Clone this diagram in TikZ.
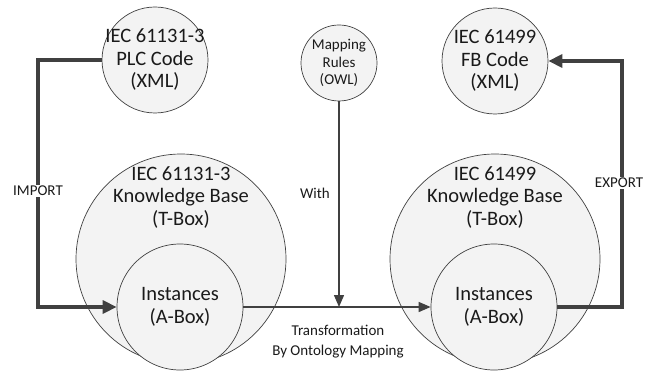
\documentclass[tikz,border=0pt]{standalone}
\usepackage{fontspec}
\setmainfont{Carlito}
\usetikzlibrary{arrows.meta}
\definecolor{linegray}{HTML}{404040}
\definecolor{circfill}{HTML}{F3F3F3}
\definecolor{txt}{HTML}{1A1A1A}
\tikzset{
  circ/.style={circle, draw=linegray, line width=0.7pt, fill=circfill, inner sep=0pt},
  bigtext/.style={align=center, text=txt, font=\fontsize{20.5}{22.5}\selectfont},
  smalltext/.style={align=center, text=txt, font=\fontsize{15}{17.5}\selectfont},
  lbl/.style={align=center, text=txt, font=\fontsize{15}{20}\selectfont, inner sep=1pt},
  heavy/.style={draw=linegray, line width=3.2pt, -{Triangle[length=14pt, width=13pt]}},
  light/.style={draw=linegray, line width=1.4pt, -{Triangle[length=12pt, width=10pt]}}
}
\begin{document}
\begin{tikzpicture}[x=1pt, y=-1pt]
\useasboundingbox (0,0) rectangle (652,374);
% circles
\node[circ, minimum size=106pt] (plc) at (155,60) {};
\node[bigtext] (plct) at (155,60) {IEC 61131-3\\PLC Code\\(XML)};
\node[circ, minimum size=76pt] (map) at (339,63) {};
\node[smalltext] (mapt) at (339,63) {Mapping\\Rules\\(OWL)};
\node[circ, minimum size=106pt] (fb) at (495,61) {};
\node[bigtext] (fbt) at (495,61) {IEC 61499\\FB Code\\(XML)};
\node[circ, minimum size=210pt] (kbl) at (181,259) {};
\node[bigtext] (kblt) at (181,197) {IEC 61131-3\\Knowledge Base\\(T-Box)};
\node[circ, minimum size=126pt] (instl) at (180,307) {};
\node[bigtext] (instlt) at (180,307) {Instances\\(A-Box)};
\node[circ, minimum size=210pt] (kbr) at (495,259) {};
\node[bigtext] (kbrt) at (495,197) {IEC 61499\\Knowledge Base\\(T-Box)};
\node[circ, minimum size=126pt] (instr) at (494,307) {};
\node[bigtext] (instrt) at (494,307) {Instances\\(A-Box)};
% routing coordinates
\coordinate (cl) at (38,0);
\coordinate (cr) at (622,0);
% connectors
\draw[heavy] (plc.west) -- (plc.west -| cl) |- (instl.west);
\draw[heavy] (instr.east) -- (instr.east -| cr) |- (fb.east);
\draw[light] (instl.east) -- (instr.west);
\draw[light] (map.south) -- (map.south |- instl.east);
% labels
\node[lbl, fill=white] (imp) at (38,191) {IMPORT};
\node[lbl, fill=white] (exp) at (619,183) {EXPORT};
\node[lbl, anchor=east] (with) at (331,193) {With};
\node[lbl] (trans) at (338,342) {Transformation\\By Ontology Mapping};
\end{tikzpicture}
\end{document}
